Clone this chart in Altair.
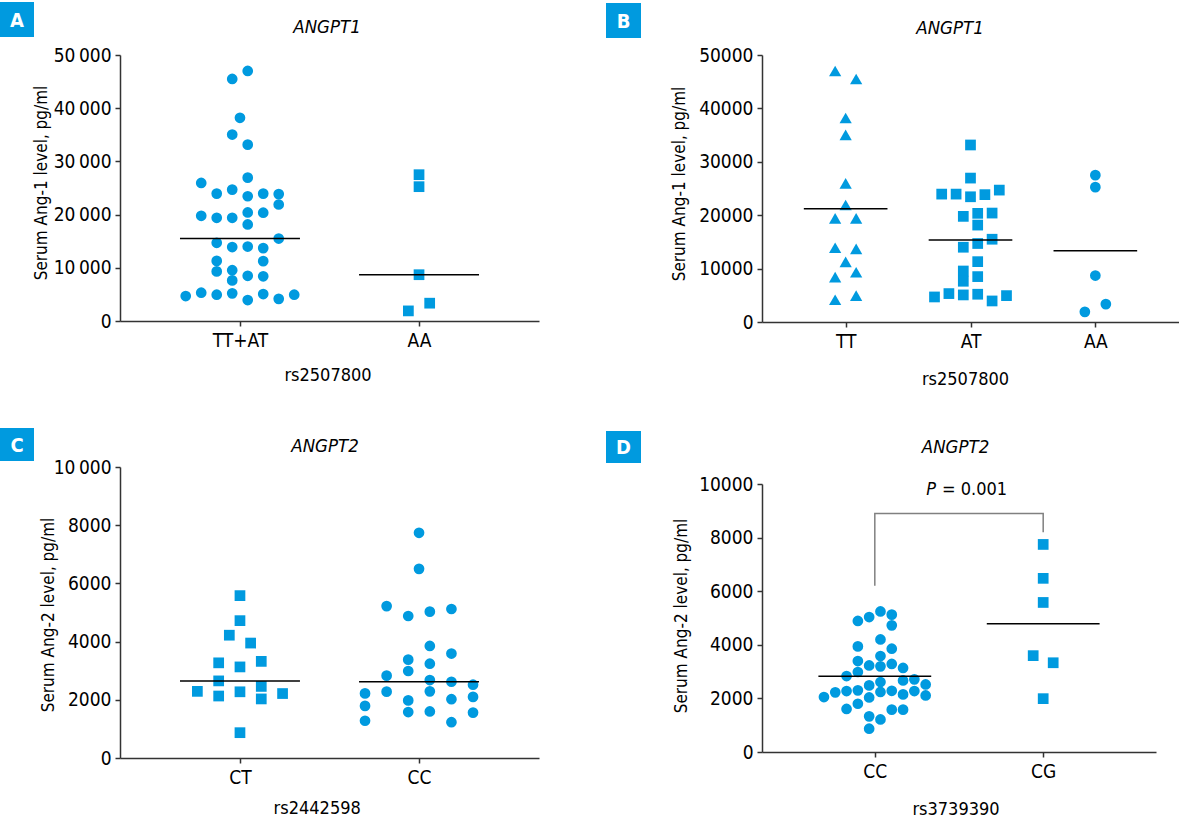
import altair as alt
import pandas as pd

BLUE = "#009ADF"
AXIS = "#333333"
FONT = "Liberation Sans Narrow, DejaVu Sans Condensed, Liberation Sans, sans-serif"
THIN = "\u2009"

LABEL_SIZE = 19
YTITLE_SIZE = 17
XTITLE_SIZE = 18
GENE_SIZE = 18.5

# ---- Panel A: ANGPT1, rs2507800 (TT+AT vs AA) ----
a_groups = ["TT+AT", "AA"]
a_ttat = [47000, 45500, 38200, 35050, 33150, 26950, 25950, 24700, 23950, 23950,
          23850, 23450, 21900, 20400, 20350, 19780, 19400, 19400, 18150, 15500,
          14700, 14000, 13900, 13700, 11300, 11250, 9550, 9320, 8500, 8400,
          7630, 5320, 5200, 5070, 4940, 4940, 4690, 4160, 3940]
a_ttat_col = [0.5, -0.5, 0, -0.5, 0.5, 0.5, -2.5, -0.5, 1.5, -1.5,
              2.5, 0.5, 2.5, 0.5, 1.5, -2.5, -1.5, -0.5, 0.5, 2.5,
              -1.5, 0.5, -0.5, 1.5, -1.5, 1.5, -0.5, -1.5, 0.5, 1.5,
              -0.5, -2.5, -0.5, 1.5, -1.5, 3.5, -3.5, 2.5, 0.5]
a_aa = [27500, 25250, 8700, 1900, 3350]
a_aa_col = [0, 0, 0, -0.5, 0.5]

# ---- Panel B: ANGPT1, rs2507800 (TT / AT / AA) ----
b_groups = ["TT", "AT", "AA"]
b_tt = [47000, 45500, 38200, 35050, 25950, 21900, 19400, 19400, 13900, 13700,
        11250, 8400, 9320, 4160, 4940]
b_tt_col = [-0.5, 0.5, 0, 0, 0, 0, -0.5, 0.5, -0.5, 0.5, 0, -0.5, 0.5, -0.5, 0.5]
b_at = [33150, 26950, 23950, 23950, 23450, 23850, 24700, 19780, 20350, 20400,
        18150, 15500, 14000, 14700, 11300, 9550, 7630, 8500, 4690, 5320,
        5070, 5200, 3940, 4940]
b_at_col = [0, 0, -2, -1, 0, 1, 2, -0.5, 0.5, 1.5,
            0.5, 1.5, -0.5, 0.5, 0.5, -0.5, -0.5, 0.5, -2.5, -1.5,
            -0.5, 0.5, 1.5, 2.5]
b_aa = [27500, 25250, 8700, 1900, 3350]
b_aa_col = [0, 0, 0, -0.5, 0.5]

# ---- Panel C: ANGPT2, rs2442598 (CT / CC) ----
c_groups = ["CT", "CC"]
c_ct = [5580, 4720, 4220, 3950, 3270, 3130, 3320, 2650, 2290, 2130,
        2275, 2460, 2030, 2215, 870]
c_ct_col = [0, 0, -0.5, 0.5, -1, 0, 1, -1, -2, -1, 0, 1, 1, 2, 0]
c_cc = [7740, 6500, 5220, 4880, 5030, 5120, 3850, 3590, 3380, 3240,
        2990, 2830, 2680, 2620, 2520, 2220, 2280, 2290, 1980, 2020,
        2100, 1790, 1580, 1600, 1560, 1280, 1230]
c_cc_col = [0, 0, -1.5, -0.5, 0.5, 1.5, 0.5, 1.5, -0.5, 0.5,
            -0.5, -1.5, 0.5, 1.5, 2.5, -2.5, -1.5, 0.5, -0.5, 1.5,
            2.5, -2.5, -0.5, 0.5, 2.5, -2.5, 1.5]

# ---- Panel D: ANGPT2, rs3739390 (CC / CG) ----
d_groups = ["CC", "CG"]
d_cc = [2050, 2225, 2275, 2835, 1605, 4890, 3940, 3395, 2985, 2300,
        1800, 5035, 3230, 2485, 2035, 1330, 870, 5245, 4200, 3580,
        3195, 2610, 2240, 1215, 5125, 4725, 3855, 3285, 2285, 1580,
        3135, 2670, 2150, 1580, 2710, 2275, 2520, 2110]
d_cc_col = [-4.5, -3.5, -2.5, -2.5, -2.5, -1.5, -1.5, -1.5, -1.5, -1.5,
            -1.5, -0.5, -0.5, -0.5, -0.5, -0.5, -0.5, 0.5, 0.5, 0.5,
            0.5, 0.5, 0.5, 0.5, 1.5, 1.5, 1.5, 1.5, 1.5, 1.5,
            2.5, 2.5, 2.5, 2.5, 3.5, 3.5, 4.5, 4.5]
d_cg = [7745, 6480, 5580, 3595, 3330, 1990]
d_cg_col = [0, 0, 0, -0.5, 0.5, 0]

# significance bracket between CC and CG
d_bracket_x = [0, 0, 1, 1]
d_bracket_y = [6200, 8900, 8900, 8200]
d_p_label = ["P", "= 0.001"]
d_p_level = 9760

SIZES = {"circle": 115, "square": 115, "triangle-up": 150}
LO_PAD = 0.67
HALF_LINE = 0.335


def label_expr(names):
    arr = "[" + ",".join("'%s'" % n for n in names) + "]"
    return arr + "[datum.value]"


def spaced_thousands():
    return ("datum.value >= 10000 ? format(datum.value / 1000, 'd') + '"
            + THIN + "000' : format(datum.value, 'd')")


def panel(p):
    groups = p["groups"]
    n = len(groups)
    lo, hi = -LO_PAD, n - 1 + LO_PAD
    ppu = p["width"] / (hi - lo)
    rows = []
    for gi, s in enumerate(p["series"]):
        for v, c in zip(s["values"], s["cols"]):
            rows.append({"g": gi, "value": v,
                         "x": gi + c * s["col_px"] / ppu,
                         "shape": s["shape"], "size": SIZES[s["shape"]]})
    df = pd.DataFrame(rows)

    xscale = alt.Scale(domain=[lo, hi], nice=False, zero=False)
    yscale = alt.Scale(domain=[0, p["ymax"]], nice=False, zero=True)

    xaxis = alt.Axis(
        values=list(range(n)), labelExpr=label_expr(groups), grid=False,
        title=p["xtitle"], titleX=p["xt"][0], titleY=p["xt"][1],
        titleAlign="center", titleBaseline="middle",
        titleFont=FONT, titleFontSize=XTITLE_SIZE, titleFontWeight="normal", titleColor="black",
        labelFont=FONT, labelFontSize=LABEL_SIZE, labelColor="black", labelPadding=5,
        labelFlush=False, labelOverlap=False,
        domainColor=AXIS, domainWidth=1.5, tickColor=AXIS, tickWidth=1.5, tickSize=5,
    )
    yargs = dict(
        values=p["yticks"], grid=False,
        title=p["ytitle"], titleX=p["yt"][0], titleY=p["yt"][1], titleAngle=270,
        titleAlign="center", titleBaseline="middle",
        titleFont=FONT, titleFontSize=YTITLE_SIZE, titleFontWeight="normal", titleColor="black",
        labelFont=FONT, labelFontSize=LABEL_SIZE, labelColor="black", labelPadding=4,
        labelOverlap=False,
        domainColor=AXIS, domainWidth=1.5, tickColor=AXIS, tickWidth=1.5, tickSize=5,
    )
    if p["spaced"]:
        yargs["labelExpr"] = spaced_thousands()
    else:
        yargs["format"] = "d"
    yaxis = alt.Axis(**yargs)

    points = alt.Chart(df).mark_point(filled=True, opacity=1, color=BLUE, strokeWidth=0).encode(
        x=alt.X("x:Q", scale=xscale, axis=xaxis),
        y=alt.Y("value:Q", scale=yscale, axis=yaxis),
        shape=alt.Shape("shape:N", scale=None),
        size=alt.Size("size:Q", scale=None),
    )

    centre = alt.Chart(df).transform_aggregate(
        c="%s(value)" % p["stat"], groupby=["g"]
    ).transform_calculate(
        x1="datum.g - %f" % HALF_LINE, x2="datum.g + %f" % HALF_LINE
    ).mark_rule(color="black", strokeWidth=1.5).encode(
        x=alt.X("x1:Q", scale=xscale),
        x2="x2:Q",
        y=alt.Y("c:Q", scale=yscale),
    )

    one = alt.Data(values=[{"k": 0}])
    bx0, by0, bw, bh = p["box"]
    box = alt.Chart(one).mark_rect(color=BLUE).encode(
        x=alt.value(bx0), x2=alt.value(bx0 + bw), y=alt.value(by0), y2=alt.value(by0 + bh)
    )
    letter = alt.Chart(one).mark_text(
        text=p["letter"], color="white", font=FONT, fontSize=20, fontWeight="bold",
        align="center", baseline="middle"
    ).encode(x=alt.value(bx0 + bw / 2), y=alt.value(by0 + bh / 2 + 1))
    gene = alt.Chart(one).mark_text(
        text=p["gene"], color="black", font=FONT, fontSize=GENE_SIZE, fontStyle="italic",
        align="center", baseline="middle"
    ).encode(x=alt.value(p["gt"][0]), y=alt.value(p["gt"][1]))

    layers = [points, centre, box, letter, gene]
    if "extra" in p:
        layers += p["extra"](xscale, yscale)
    return alt.layer(*layers).properties(width=p["width"], height=p["height"])


def d_extra(xscale, yscale):
    br = pd.DataFrame({"x": d_bracket_x, "y": d_bracket_y, "o": list(range(len(d_bracket_x)))})
    bracket = alt.Chart(br).mark_line(color="#808080", strokeWidth=1.5).encode(
        x=alt.X("x:Q", scale=xscale),
        y=alt.Y("y:Q", scale=yscale),
        order="o:Q",
    )
    one = alt.Data(values=[{"k": 0}])
    p_it = alt.Chart(one).mark_text(
        text=d_p_label[0], font=FONT, fontSize=18, fontStyle="italic", color="black",
        align="right", baseline="middle", dx=-23
    ).encode(x=alt.datum(0.5), y=alt.datum(d_p_level))
    p_val = alt.Chart(one).mark_text(
        text=d_p_label[1], font=FONT, fontSize=18, color="black",
        align="left", baseline="middle", dx=-17
    ).encode(x=alt.datum(0.5), y=alt.datum(d_p_level))
    return [bracket, p_it, p_val]


ang1_ticks = [0, 10000, 20000, 30000, 40000, 50000]
ang2_ticks = [0, 2000, 4000, 6000, 8000, 10000]

panel_a = panel(dict(
    letter="A", gene="ANGPT1", groups=a_groups, stat="median",
    series=[dict(values=a_ttat, cols=a_ttat_col, col_px=15.5, shape="circle"),
            dict(values=a_aa, cols=a_aa_col, col_px=21.3, shape="square")],
    width=419, height=266, ymax=50000, yticks=ang1_ticks, spaced=True,
    xtitle="rs2507800", ytitle="Serum Ang-1 level, pg/ml",
    box=(-120, -53, 34, 35), gt=(207, -28), yt=(-79, 127.5), xt=(207.5, 54),
))

panel_b = panel(dict(
    letter="B", gene="ANGPT1", groups=b_groups, stat="mean",
    series=[dict(values=b_tt, cols=b_tt_col, col_px=21, shape="triangle-up"),
            dict(values=b_at, cols=b_at_col, col_px=14.4, shape="square"),
            dict(values=b_aa, cols=b_aa_col, col_px=21, shape="circle")],
    width=417, height=267, ymax=50000, yticks=ang1_ticks, spaced=False,
    xtitle="rs2507800", ytitle="Serum Ang-1 level, pg/ml",
    box=(-156, -52, 35, 35), gt=(188, -27), yt=(-83, 128.5), xt=(203, 57),
))

panel_c = panel(dict(
    letter="C", gene="ANGPT2", groups=c_groups, stat="median",
    series=[dict(values=c_ct, cols=c_ct_col, col_px=21.3, shape="square"),
            dict(values=c_cc, cols=c_cc_col, col_px=21.6, shape="circle")],
    width=419, height=291, ymax=10000, yticks=ang2_ticks, spaced=True,
    xtitle="rs2442598", ytitle="Serum Ang-2 level, pg/ml",
    box=(-120, -39, 34, 33), gt=(205, -21), yt=(-71.5, 147.5), xt=(196.7, 50),
))

panel_d = panel(dict(
    letter="D", gene="ANGPT2", groups=d_groups, stat="mean",
    series=[dict(values=d_cc, cols=d_cc_col, col_px=11.3, shape="circle"),
            dict(values=d_cg, cols=d_cg_col, col_px=20, shape="square")],
    width=394, height=268, ymax=10000, yticks=ang2_ticks, spaced=False,
    xtitle="rs3739390", ytitle="Serum Ang-2 level, pg/ml",
    box=(-156, -53, 35, 32), gt=(193.5, -37), yt=(-81, 131.5), xt=(193.5, 57),
    extra=d_extra,
))

left = alt.vconcat(panel_a, panel_c, spacing=44)
right = alt.vconcat(panel_b, panel_d, spacing=43)

chart = alt.hconcat(left, right, spacing=67).properties(
    padding={"left": 0, "top": 2, "right": 0, "bottom": 0},
    background="white",
).configure_view(stroke=None)

chart.save("out.html", embed_options={"renderer": "svg", "actions": False})
